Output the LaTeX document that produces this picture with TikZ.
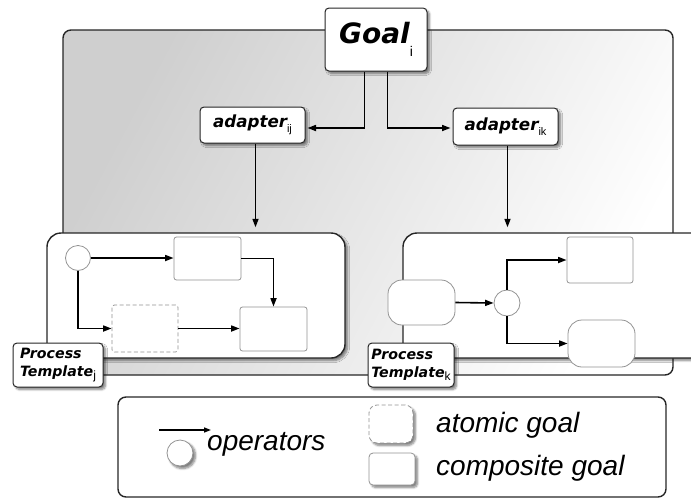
\documentclass[tikz,border=0pt]{standalone}
\usepackage{fontspec}
\setmainfont{Liberation Sans}
\newfontfamily\headfont{DejaVu Sans}
\usetikzlibrary{arrows.meta,shadows,shadows.blur}

\newcommand{\lowsub}[3]{\raisebox{#1}{\normalfont\fontsize{#2}{#2}\selectfont #3}}

\tikzset{
  shad/.style={blur shadow={shadow blur steps=6, shadow xshift=2.5pt,
      shadow yshift=-2.5pt, shadow blur extra rounding=1.5pt, shadow opacity=50}},
  panel/.style={draw=black!85, line width=1.4pt, rounded corners=8pt,
      top color=black!19, bottom color=white, shading angle=62},
  tmpl/.style={draw=black!85, line width=1.4pt, fill=white, rounded corners=14pt,
      shad, inner sep=0pt},
  lab/.style={draw=black!85, line width=1pt, fill=white, rounded corners=4pt,
      shad, inner sep=0pt},
  goalbox/.style={draw=gray!85, line width=0.8pt, fill=white, rounded corners=2.5pt,
      inner sep=0pt},
  atombox/.style={goalbox, dashed, dash pattern=on 4pt off 2.5pt},
  softbox/.style={goalbox, rounded corners=14pt},
  opcirc/.style={circle, draw=gray!85, line width=0.8pt, fill=white, inner sep=0pt},
  arr/.style={line width=1.6pt, -{Triangle[length=8.5pt,width=6pt]}},
  legtext/.style={font=\fontsize{28}{28}\selectfont\itshape, inner sep=0pt, anchor=west},
}

\begin{document}
\begin{tikzpicture}[x=1pt,y=-1pt]
  \clip (0,0) rectangle (691,501);

  % shaded container
  \draw[panel] (63,30) rectangle (673,375);

  % goal and its adapters
  \node[lab, minimum width=102pt, minimum height=63pt] (goal) at (376,39.5)
    {\headfont\fontsize{28}{28}\selectfont\bfseries\itshape Goal\lowsub{-13pt}{14}{i}};
  \node[lab, minimum width=105pt, minimum height=36pt] (aij) at (252.5,125)
    {\headfont\fontsize{16.7}{17}\selectfont\bfseries\itshape adapter\lowsub{-5pt}{11}{ij}};
  \node[lab, minimum width=105pt, minimum height=37pt] (aik) at (505.5,126.5)
    {\headfont\fontsize{16.7}{17}\selectfont\bfseries\itshape adapter\lowsub{-5pt}{11}{ik}};

  \draw[arr, shorten >=2pt] ([xshift=-11.5pt]goal.south) |- ([yshift=-3pt]aij.east);
  \draw[arr, shorten >=2pt] ([xshift=11.5pt]goal.south) |- ([yshift=-1.5pt]aik.west);

  % process templates
  \node[tmpl, minimum width=298pt, minimum height=125pt] (tj) at (196,295.5) {};
  \node[tmpl, minimum width=317pt, minimum height=125pt] (tk) at (561.5,295.5) {};

  \draw[arr, shorten >=5pt] ([xshift=3pt]aij.south) -- ([xshift=3pt]aij.south |- tj.north);
  \draw[arr, shorten >=5pt] ([xshift=2pt]aik.south) -- ([xshift=2pt]aik.south |- tk.north);

  % template j contents
  \node[opcirc, minimum size=25pt] (cj) at (78,258) {};
  \node[goalbox, minimum width=67pt, minimum height=43pt] (j1) at (207.5,258.5) {};
  \node[atombox, minimum width=66pt, minimum height=47pt] (jd) at (145,328.5) {};
  \node[goalbox, minimum width=67pt, minimum height=44pt] (j2) at (273.5,329) {};

  \draw[arr] (cj.east) -- (cj.east -| j1.west);
  \draw[arr] (j1.east) -| (j2.north);
  \draw[arr] (cj.south) |- (jd.west);
  \draw[arr] (jd.east) -- (jd.east -| j2.west);

  % template k contents
  \node[softbox, minimum width=67pt, minimum height=45pt] (k0) at (421.5,302.5) {};
  \node[opcirc, minimum size=26pt] (ck) at (507,303) {};
  \node[goalbox, minimum width=66pt, minimum height=46pt] (k1) at (600,260) {};
  \node[softbox, minimum width=67pt, minimum height=47pt] (k2) at (601.5,343.5) {};

  \draw[arr] (k0.east) -- (ck.west);
  \draw[arr] (ck.north) |- (k1.west);
  \draw[arr] (ck.south) |- (k2.west);

  % template labels
  \node[lab, minimum width=90pt, minimum height=44pt, align=left,
        font=\headfont\fontsize{14.2}{18}\selectfont\bfseries\itshape] (lj) at (58,365)
    {Process\\Template\lowsub{-3pt}{12}{j}};
  \node[lab, minimum width=86pt, minimum height=44pt, align=left,
        font=\headfont\fontsize{14.2}{18}\selectfont\bfseries\itshape] (lk) at (411,365)
    {Process\\Template\lowsub{-3pt}{12}{k}};

  % legend
  \draw[draw=black!85, line width=1.4pt, rounded corners=8pt] (118,397) rectangle (666,497);
  \coordinate (la1) at (159,430);
  \coordinate (la2) at (211,430);
  \draw[line width=1.4pt, -{Triangle[length=7pt,width=5pt]}] (la1) -- (la2);
  \node[opcirc, shad, minimum size=26pt] (lc) at (180,453) {};
  \node[legtext] (lop) at (207,444) {operators};
  \node[atombox, shad, rounded corners=8pt, minimum width=44pt, minimum height=38pt] (ld) at (391,424) {};
  \node[goalbox, shad, rounded corners=4pt, minimum width=46pt, minimum height=32pt] (ls) at (392,469) {};
  \node[legtext] (lat) at (436,425) {atomic goal};
  \node[legtext] (lco) at (436,468) {composite goal};
\end{tikzpicture}
\end{document}
